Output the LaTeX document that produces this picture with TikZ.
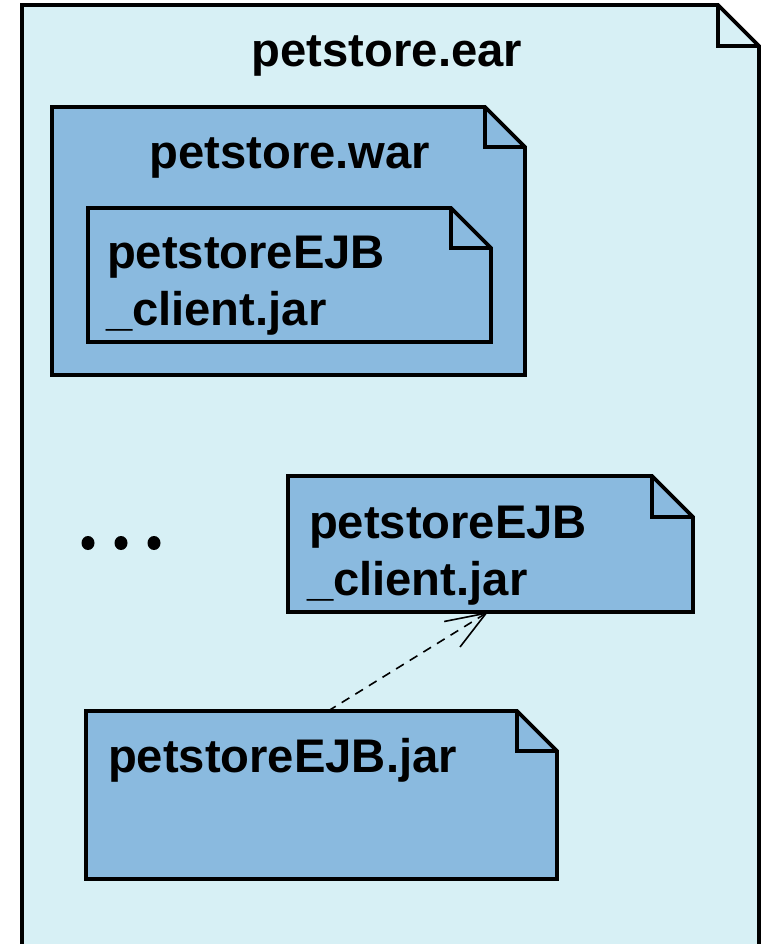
\documentclass[tikz,border=0pt]{standalone}
\usepackage{fontspec}
\setmainfont{Liberation Sans}
\usetikzlibrary{arrows.meta,calc}

\definecolor{earfill}{HTML}{D7F0F5}
\definecolor{artfill}{HTML}{8ABADF}

\tikzset{
  frame/.style={draw=none, inner sep=0pt, outer sep=0pt, anchor=north west},
  boxline/.style={draw=black, line width=3.8pt, line join=miter},
  label/.style={inner sep=0pt, outer sep=0pt, font=\fontsize{47.2}{57}\selectfont\bfseries},
  dep/.style={dashed, dash pattern=on 9pt off 7pt, line width=1.6pt,
    -{Straight Barb[length=40pt,width=30pt,line width=1.6pt]}}
}

% artifact outline with folded corner: node name, fold size, fill colour
\newcommand\artifactshape[3]{%
  \filldraw[boxline, fill=#3] (#1.north west) -- ([xshift=-#2]#1.north east)
    -- ([yshift=-#2]#1.north east) -- (#1.south east) -- (#1.south west) -- cycle;
  \draw[boxline] ([xshift=-#2]#1.north east) |- ([yshift=-#2]#1.north east);
}

\begin{document}
\begin{tikzpicture}[x=1pt, y=-1pt]
  \useasboundingbox (0,0) rectangle (763,944);
  \clip (0,0) rectangle (763,944);
  \fill[white] (0,0) rectangle (763,944);

  % enterprise archive
  \node[frame, minimum width=737pt, minimum height=960pt] (ear) at (22,5) {};
  \artifactshape{ear}{41pt}{earfill}
  \node[label, anchor=base] (eartitle) at (387,67) {petstore.ear};

  % web archive
  \node[frame, minimum width=473pt, minimum height=268pt] (war) at (52,107) {};
  \artifactshape{war}{40pt}{artfill}
  \node[label, anchor=base] (wartitle) at (290,169) {petstore.war};

  % client jar inside the web archive
  \node[frame, minimum width=403pt, minimum height=134pt] (client1) at (88,208) {};
  \artifactshape{client1}{40pt}{artfill}
  \node[label, anchor=base west] (c1a) at (107,268) {petstoreEJB};
  \node[label, anchor=base west] (c1b) at (106,325) {\_client.jar};

  % ellipsis
  \foreach \i/\x in {1/88,2/121,3/154}
    \fill (\x,543) ellipse (6.5pt and 7pt) coordinate (dot\i);

  % client jar in the enterprise archive
  \node[frame, minimum width=405pt, minimum height=136pt] (client2) at (288,476) {};
  \artifactshape{client2}{41pt}{artfill}
  \node[label, anchor=base west] (c2a) at (309,538) {petstoreEJB};
  \node[label, anchor=base west] (c2b) at (307,595) {\_client.jar};

  % EJB jar
  \node[frame, minimum width=471pt, minimum height=168pt] (ejb) at (86,711) {};
  \artifactshape{ejb}{40pt}{artfill}
  \node[label, anchor=base west] (ejbt) at (108,772) {petstoreEJB.jar};

  % dependency
  \draw[dep] ($(ejb.north west)!0.514!(ejb.north east)$)
          -- ($(client2.south west)!0.494!(client2.south east)$);
\end{tikzpicture}
\end{document}
